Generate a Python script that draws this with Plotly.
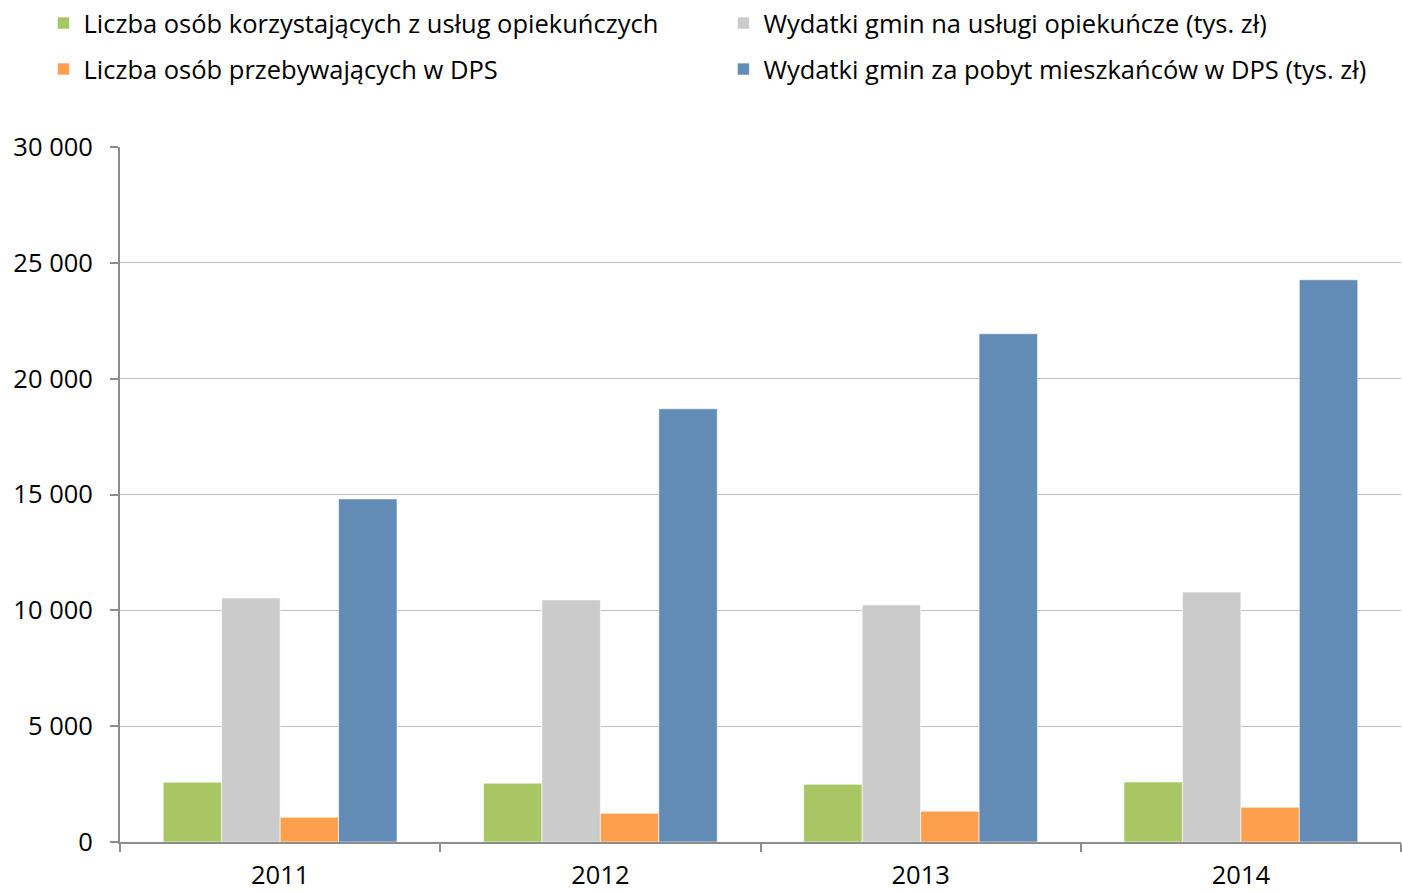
import plotly.graph_objects as go

years = ["2011", "2012", "2013", "2014"]
users_care = [2580, 2540, 2490, 2590]
spend_care = [10530, 10450, 10230, 10790]
dps_residents = [1070, 1240, 1330, 1500]
spend_dps = [14810, 18700, 21940, 24270]

names = [
    "Liczba osób korzystających z usług opiekuńczych",
    "Wydatki gmin na usługi opiekuńcze (tys. zł)",
    "Liczba osób przebywających w DPS",
    "Wydatki gmin za pobyt mieszkańców w DPS (tys. zł)",
]
colors = ["#A8C664", "#CBCBCB", "#FDA04E", "#628BB6"]
series = [users_care, spend_care, dps_residents, spend_dps]
legends = ["legend", "legend2", "legend3", "legend4"]
leg_pos = [(0.031, 1.0), (0.516, 1.0), (0.031, 0.9485), (0.516, 0.9485)]

FONT = "Open Sans"

fig = go.Figure()
for n, c, s, lg in zip(names, colors, series, legends):
    fig.add_trace(go.Bar(
        x=years, y=s, name=n, legend=lg,
        marker=dict(color=c, line=dict(color="rgba(255,255,255,0.6)", width=1)),
    ))

leg_common = dict(orientation="h", xref="container", yref="container",
                  xanchor="left", yanchor="top",
                  font=dict(family=FONT, size=25.5, color="#000"), bgcolor="rgba(0,0,0,0)",
                  itemclick=False, itemdoubleclick=False)

fig.update_layout(
    width=1402, height=893,
    margin=dict(l=120, r=1, t=147, b=51, autoexpand=False),
    paper_bgcolor="white", plot_bgcolor="white",
    barmode="group", bargap=0.27, bargroupgap=0,
    separators=". ",
    font=dict(family=FONT, size=24, color="#000000"),
    showlegend=True,
)
for lg, (lx, ly) in zip(legends, leg_pos):
    fig.update_layout({lg: dict(x=lx, y=ly, **leg_common)})

fig.update_xaxes(
    type="category", showgrid=False, showline=True, linecolor="#8C8C8C", linewidth=2,
    ticks="outside", tickson="boundaries", ticklen=8, tickcolor="#8C8C8C", tickwidth=2,
    tickfont=dict(family=FONT, size=25.5, color="#000"), ticklabelstandoff=9,
    automargin=False,
)
fig.update_yaxes(
    range=[0, 30000], tickvals=[0, 5000, 10000, 15000, 20000, 25000, 30000],
    tickformat=",d", showgrid=True, gridcolor="#BFBFBF", gridwidth=1,
    showline=True, linecolor="#8C8C8C", linewidth=2,
    ticks="outside", ticklen=8, tickcolor="#8C8C8C", tickwidth=2,
    ticklabelstandoff=12, zeroline=False, automargin=False,
    tickfont=dict(family=FONT, size=25.5, color="#000"),
)

fig.write_html("out.html", config={"displayModeBar": False},
               post_script="document.body.style.margin='0';")
